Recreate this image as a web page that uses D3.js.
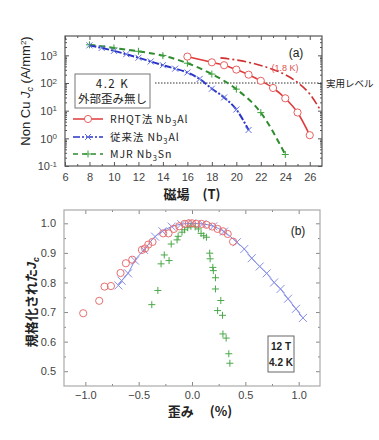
<!DOCTYPE html>
<html>
<head>
<meta charset="utf-8">
<script src="https://cdn.jsdelivr.net/npm/d3@7"></script>
<style>
  body { margin: 0; background: #fff; }
  text { font-family: "Liberation Sans", Arial, sans-serif; }
  .jp { font-family: "Noto Sans CJK JP", sans-serif; }
</style>
</head>
<body>
<div id="chart"></div>
<script>
// ---- data: panel (a) field dependence, Jc in A/mm2
const rhqt = [[16,900],[18,560],[19,440],[20,305],[21,200],[22,120],[23,66],[24,28],[25,8.6],[26,1.3]];
const rhqt18 = [[18.7,810],[20,680],[21,560],[22,430],[23,310],[24,200],[25,105],[26,40],[26.9,10]];
const conv = [[8,2300],[9,1850],[10,1450],[11,1100],[12,820],[13,600],[14,440],[15,330],[16,240],[17,140],[18,62],[19,30],[20,11],[21,2]];
const mjr = [[8,2400],[10,1850],[12,1400],[14,980],[16,520],[18,210],[20,60],[22,8.5],[24,0.26]];
const practical = 100;
const fieldTicks = [6,8,10,12,14,16,18,20,22,24,26];
const jcTicks = [0.1,1,10,100,1000];

// ---- data: panel (b) strain dependence, normalized Jc
const strainRhqt = [[-1.02,0.696],[-0.87,0.738],[-0.82,0.786],[-0.76,0.788],[-0.67,0.832],[-0.62,0.865],[-0.56,0.877],[-0.47,0.91],[-0.44,0.915],[-0.41,0.928],[-0.37,0.937],[-0.27,0.966],[-0.22,0.966],[-0.17,0.981],[-0.12,0.99],[-0.07,0.998],[-0.03,1.0],[0.0,1.0],[0.04,0.998],[0.09,0.998],[0.135,0.995],[0.19,0.989],[0.24,0.981],[0.29,0.973],[0.335,0.964],[0.385,0.938]];
const strainConv = [[-0.69,0.79],[-0.66,0.806],[-0.6,0.831],[-0.535,0.874],[-0.45,0.91],[-0.346,0.955],[-0.277,0.973],[-0.19,0.989],[-0.1,0.997],[0.0,1.0],[0.1,0.998],[0.2,0.99],[0.3,0.972],[0.42,0.936],[0.49,0.913],[0.56,0.882],[0.635,0.854],[0.70,0.831],[0.77,0.80],[0.83,0.778],[0.90,0.745],[0.975,0.711],[1.04,0.68]];
const strainMjr = [[-0.377,0.725],[-0.32,0.773],[-0.29,0.863],[-0.26,0.893],[-0.215,0.874],[-0.195,0.93],[-0.14,0.944],[-0.13,0.956],[-0.094,0.97],[-0.07,0.978],[-0.04,0.985],[-0.01,0.99],[0.03,0.988],[0.06,0.981],[0.085,0.966],[0.11,0.958],[0.135,0.953],[0.166,0.899],[0.17,0.88],[0.195,0.851],[0.2,0.84],[0.22,0.816],[0.22,0.778],[0.27,0.739],[0.24,0.705],[0.286,0.689],[0.29,0.626],[0.32,0.612],[0.345,0.559],[0.355,0.527]];
const strainTicks = [-1.0,-0.5,0.0,0.5,1.0];
const normTicks = [0.5,0.6,0.7,0.8,0.9,1.0];

const RED = "#e03a3a", BLUE = "#2a35c8", GREEN = "#2e8b2e";

const svg = d3.select("#chart").append("svg")
    .attr("width", 379).attr("height", 440);

// ================= panel (a) =================
const a = { left: 65, right: 322, top: 36, bottom: 166 };
const xa = d3.scaleLinear().domain([6, 27]).range([a.left, a.right]);
const ya = d3.scaleLog().domain([0.1, 5000]).range([a.bottom, a.top]);

const ga = svg.append("g");

// minor ticks
const minorLog = [];
for (let e = -1; e <= 3; e++) for (let m = 2; m <= 9; m++) {
  const v = m * Math.pow(10, e);
  if (v < 5000) minorLog.push(v);
}
const minorField = d3.range(7, 27, 2);

function tickStyle(g, color) {
  g.select(".domain").remove();
  g.selectAll("line").attr("stroke", color);
  g.selectAll("text").attr("fill", "#444").attr("font-size", 11);
}

ga.append("g").attr("transform", `translate(0,${a.bottom})`)
  .call(d3.axisBottom(xa).tickValues(fieldTicks).tickSizeInner(-4).tickSizeOuter(0).tickPadding(7).tickFormat(d3.format("d")))
  .call(g => tickStyle(g, "#555"));
ga.append("g").attr("transform", `translate(0,${a.bottom})`)
  .call(d3.axisBottom(xa).tickValues(minorField).tickSize(-2).tickFormat(""))
  .call(g => tickStyle(g, "#555"));
ga.append("g").attr("transform", `translate(0,${a.top})`)
  .call(d3.axisTop(xa).tickValues(fieldTicks).tickSize(-4).tickFormat(""))
  .call(g => tickStyle(g, "#555"));
ga.append("g").attr("transform", `translate(0,${a.top})`)
  .call(d3.axisTop(xa).tickValues(minorField).tickSize(-2).tickFormat(""))
  .call(g => tickStyle(g, "#555"));

const yaAxis = ga.append("g").attr("transform", `translate(${a.left},0)`)
  .call(d3.axisLeft(ya).tickValues(jcTicks).tickSizeInner(-4).tickSizeOuter(0).tickPadding(7).tickFormat(""))
  .call(g => tickStyle(g, "#555"));
yaAxis.selectAll(".tick").append("text")
  .attr("x", -8).attr("dy", "0.35em").attr("text-anchor", "end")
  .attr("fill", "#444").attr("font-size", 11)
  .each(function(d) {
    const t = d3.select(this);
    t.append("tspan").text("10");
    t.append("tspan").attr("dy", "-0.45em").attr("font-size", 8).text(Math.round(Math.log10(d)));
  });
ga.append("g").attr("transform", `translate(${a.left},0)`)
  .call(d3.axisLeft(ya).tickValues(minorLog).tickSize(-2).tickFormat(""))
  .call(g => tickStyle(g, "#555"));
ga.append("g").attr("transform", `translate(${a.right},0)`)
  .call(d3.axisRight(ya).tickValues(jcTicks).tickSize(-4).tickFormat(""))
  .call(g => tickStyle(g, "#555"));
ga.append("g").attr("transform", `translate(${a.right},0)`)
  .call(d3.axisRight(ya).tickValues(minorLog).tickSize(-2).tickFormat(""))
  .call(g => tickStyle(g, "#555"));

ga.append("rect").attr("x", a.left).attr("y", a.top)
  .attr("width", a.right - a.left).attr("height", a.bottom - a.top)
  .attr("fill", "none").attr("stroke", "#555").attr("stroke-width", 1.2);

// practical level
ga.append("line")
  .attr("x1", 155).attr("x2", a.right)
  .attr("y1", ya(practical)).attr("y2", ya(practical))
  .attr("stroke", "#333").attr("stroke-width", 1).attr("stroke-dasharray", "1.5,1.5");
ga.append("text").attr("class", "jp").attr("x", 326).attr("y", ya(practical) + 4)
  .attr("font-size", 9.5).attr("fill", "#222").text("実用レベル");

const lineA = d3.line().x(d => xa(d[0])).y(d => ya(d[1])).curve(d3.curveMonotoneX);

ga.append("path").datum(rhqt18).attr("d", lineA).attr("fill", "none")
  .attr("stroke", "#d03030").attr("stroke-width", 1.6).attr("stroke-dasharray", "9,3,2,3");
ga.append("path").datum(mjr).attr("d", lineA).attr("fill", "none")
  .attr("stroke", GREEN).attr("stroke-width", 2).attr("stroke-dasharray", "6,4");
ga.append("path").datum(conv).attr("d", lineA).attr("fill", "none")
  .attr("stroke", BLUE).attr("stroke-width", 2).attr("stroke-dasharray", "7,2,2,2");
ga.append("path").datum(rhqt).attr("d", lineA).attr("fill", "none")
  .attr("stroke", RED).attr("stroke-width", 1.6);

function plus(sel, s) { sel.attr("d", `M${-s},0H${s}M0,${-s}V${s}`); }
function cross(sel, s) { sel.attr("d", `M${-s},${-s}L${s},${s}M${-s},${s}L${s},${-s}`); }

ga.selectAll(".mp").data(mjr).join("path")
  .attr("transform", d => `translate(${xa(d[0])},${ya(d[1])})`)
  .call(plus, 3.5).attr("stroke", "#3aa03a").attr("stroke-width", 1);
ga.selectAll(".cx").data(conv).join("path")
  .attr("transform", d => `translate(${xa(d[0])},${ya(d[1])})`)
  .call(cross, 3).attr("stroke", "#6070e0").attr("stroke-width", 1);
ga.selectAll(".rc").data(rhqt).join("circle")
  .attr("cx", d => xa(d[0])).attr("cy", d => ya(d[1])).attr("r", 3.6)
  .attr("fill", "#fff").attr("stroke", "#e86060").attr("stroke-width", 1);

ga.append("text").attr("x", 285).attr("y", 71).attr("text-anchor", "middle")
  .attr("font-size", 9).attr("fill", "#e05050").text("(1.8 K)");
ga.append("text").attr("x", 296).attr("y", 57).attr("text-anchor", "middle")
  .attr("font-size", 12).attr("fill", "#222").text("(a)");

// info box
ga.append("rect").attr("x", 75).attr("y", 74).attr("width", 75).attr("height", 34)
  .attr("fill", "#fff").attr("stroke", "#777");
ga.append("text").attr("class", "jp").attr("x", 112.5).attr("y", 88).attr("text-anchor", "middle")
  .attr("font-size", 11.5).attr("letter-spacing", 1.5).attr("fill", "#222").text("4.2 K");
ga.append("text").attr("class", "jp").attr("x", 112.5).attr("y", 103).attr("text-anchor", "middle")
  .attr("font-size", 11.5).attr("fill", "#222").text("外部歪み無し");

// legend
const legend = [
  { y: 119, color: RED, dash: null, mark: "circle", pre: "RHQT法 Nb", sub: "3", post: "Al" },
  { y: 137, color: BLUE, dash: "7,2,2,2", mark: "cross", pre: "従来法 Nb", sub: "3", post: "Al" },
  { y: 154, color: GREEN, dash: "5,4", mark: "plus", pre: "MJR Nb", sub: "3", post: "Sn" }
];
legend.forEach(l => {
  ga.append("line").attr("x1", 73).attr("x2", 103).attr("y1", l.y).attr("y2", l.y)
    .attr("stroke", l.color).attr("stroke-width", 1.5).attr("stroke-dasharray", l.dash);
  if (l.mark === "circle") {
    ga.append("circle").attr("cx", 88).attr("cy", l.y).attr("r", 3.6)
      .attr("fill", "#fff").attr("stroke", "#e86060");
  } else if (l.mark === "cross") {
    ga.append("path").attr("transform", `translate(88,${l.y})`).call(cross, 3)
      .attr("stroke", "#6070e0");
  } else {
    ga.append("path").attr("transform", `translate(88,${l.y})`).call(plus, 3.5)
      .attr("stroke", "#3aa03a");
  }
  const t = ga.append("text").attr("class", "jp").attr("x", 110).attr("y", l.y + 4)
    .attr("font-size", 10.5).attr("letter-spacing", 0.9).attr("fill", "#222");
  t.append("tspan").text(l.pre);
  t.append("tspan").attr("dy", 2.5).attr("font-size", 7.5).text(l.sub);
  t.append("tspan").attr("dy", -2.5).text(l.post);
});

// axis labels
const yla = ga.append("text").attr("transform", `translate(30,91) rotate(-90)`)
  .attr("text-anchor", "middle").attr("font-size", 13).attr("fill", "#222");
yla.append("tspan").text("Non  Cu  ");
yla.append("tspan").attr("font-style", "italic").text("J");
yla.append("tspan").attr("dy", 3).attr("font-size", 9).attr("font-style", "italic").text("c");
yla.append("tspan").attr("dy", -3).text("  (A/mm");
yla.append("tspan").attr("dy", -4).attr("font-size", 8).text("2");
yla.append("tspan").attr("dy", 4).text(")");

ga.append("text").attr("class", "jp").attr("x", 192).attr("y", 199).attr("text-anchor", "middle")
  .attr("font-size", 13).attr("font-weight", "bold").attr("fill", "#222").text("磁場　(T)");

// ================= panel (b) =================
const b = { left: 64, right: 320, top: 210, bottom: 386 };
const xb = d3.scaleLinear().domain([-1.2, 1.2]).range([b.left, b.right]);
const yb = d3.scaleLinear().domain([0.45, 1.045]).range([b.bottom, b.top]);
const gb = svg.append("g");

const minorX = [-0.75, -0.25, 0.25, 0.75];
const minorNorm = [0.55, 0.65, 0.75, 0.85, 0.95];

gb.append("g").attr("transform", `translate(0,${b.bottom})`)
  .call(d3.axisBottom(xb).tickValues(strainTicks).tickSizeInner(-4).tickSizeOuter(0).tickPadding(5).tickFormat(d3.format(".1f")))
  .call(g => tickStyle(g, "#888"));
gb.append("g").attr("transform", `translate(0,${b.bottom})`)
  .call(d3.axisBottom(xb).tickValues(minorX).tickSize(-2).tickFormat(""))
  .call(g => tickStyle(g, "#888"));
gb.append("g").attr("transform", `translate(0,${b.top})`)
  .call(d3.axisTop(xb).tickValues(strainTicks).tickSize(-4).tickFormat(""))
  .call(g => tickStyle(g, "#888"));
gb.append("g").attr("transform", `translate(0,${b.top})`)
  .call(d3.axisTop(xb).tickValues(minorX).tickSize(-2).tickFormat(""))
  .call(g => tickStyle(g, "#888"));
gb.append("g").attr("transform", `translate(${b.left},0)`)
  .call(d3.axisLeft(yb).tickValues(normTicks).tickSizeInner(-4).tickSizeOuter(0).tickPadding(8).tickFormat(d3.format(".1f")))
  .call(g => tickStyle(g, "#888"));
gb.append("g").attr("transform", `translate(${b.left},0)`)
  .call(d3.axisLeft(yb).tickValues(minorNorm).tickSize(-2).tickFormat(""))
  .call(g => tickStyle(g, "#888"));
gb.append("g").attr("transform", `translate(${b.right},0)`)
  .call(d3.axisRight(yb).tickValues(normTicks).tickSize(-4).tickFormat(""))
  .call(g => tickStyle(g, "#888"));
gb.append("g").attr("transform", `translate(${b.right},0)`)
  .call(d3.axisRight(yb).tickValues(minorNorm).tickSize(-2).tickFormat(""))
  .call(g => tickStyle(g, "#888"));

gb.append("rect").attr("x", b.left).attr("y", b.top)
  .attr("width", b.right - b.left).attr("height", b.bottom - b.top)
  .attr("fill", "none").attr("stroke", "#aaa").attr("stroke-width", 1.2);

const lineB = d3.line().x(d => xb(d[0])).y(d => yb(d[1])).curve(d3.curveMonotoneX);
gb.append("path").datum(strainConv).attr("d", lineB).attr("fill", "none")
  .attr("stroke", "#5a66d8").attr("stroke-width", 0.8);

gb.selectAll(".sc").data(strainConv).join("path")
  .attr("transform", d => `translate(${xb(d[0])},${yb(d[1])})`)
  .call(cross, 4).attr("stroke", "#8890e8").attr("stroke-width", 1);
gb.selectAll(".sm").data(strainMjr).join("path")
  .attr("transform", d => `translate(${xb(d[0])},${yb(d[1])})`)
  .call(plus, 3.5).attr("stroke", "#4aa84a").attr("stroke-width", 1);
gb.selectAll(".sr").data(strainRhqt).join("circle")
  .attr("cx", d => xb(d[0])).attr("cy", d => yb(d[1])).attr("r", 3.6)
  .attr("fill", "none").attr("stroke", "#e87070").attr("stroke-width", 1);

gb.append("text").attr("x", 298).attr("y", 235).attr("text-anchor", "middle")
  .attr("font-size", 12).attr("fill", "#222").text("(b)");

gb.append("rect").attr("x", 268).attr("y", 336).attr("width", 26).attr("height", 36)
  .attr("fill", "#fff").attr("stroke", "#666");
gb.append("text").attr("x", 281).attr("y", 350).attr("text-anchor", "middle")
  .attr("font-size", 10).attr("font-weight", "bold").attr("fill", "#222").text("12 T");
gb.append("text").attr("x", 281).attr("y", 366).attr("text-anchor", "middle")
  .attr("font-size", 10).attr("font-weight", "bold").attr("fill", "#222").text("4.2 K");

const ylb = gb.append("text").attr("transform", `translate(36,302) rotate(-90)`)
  .attr("text-anchor", "middle").attr("font-size", 13).attr("font-weight", "bold").attr("fill", "#222");
ylb.append("tspan").attr("class", "jp").text("規格化された");
ylb.append("tspan").attr("font-style", "italic").text("J");
ylb.append("tspan").attr("dy", 3).attr("font-size", 9).attr("font-style", "italic").text("c");

gb.append("text").attr("class", "jp").attr("x", 200).attr("y", 416).attr("text-anchor", "middle")
  .attr("font-size", 13).attr("font-weight", "bold").attr("fill", "#222").text("歪み　 (%)");
</script>
</body>
</html>
